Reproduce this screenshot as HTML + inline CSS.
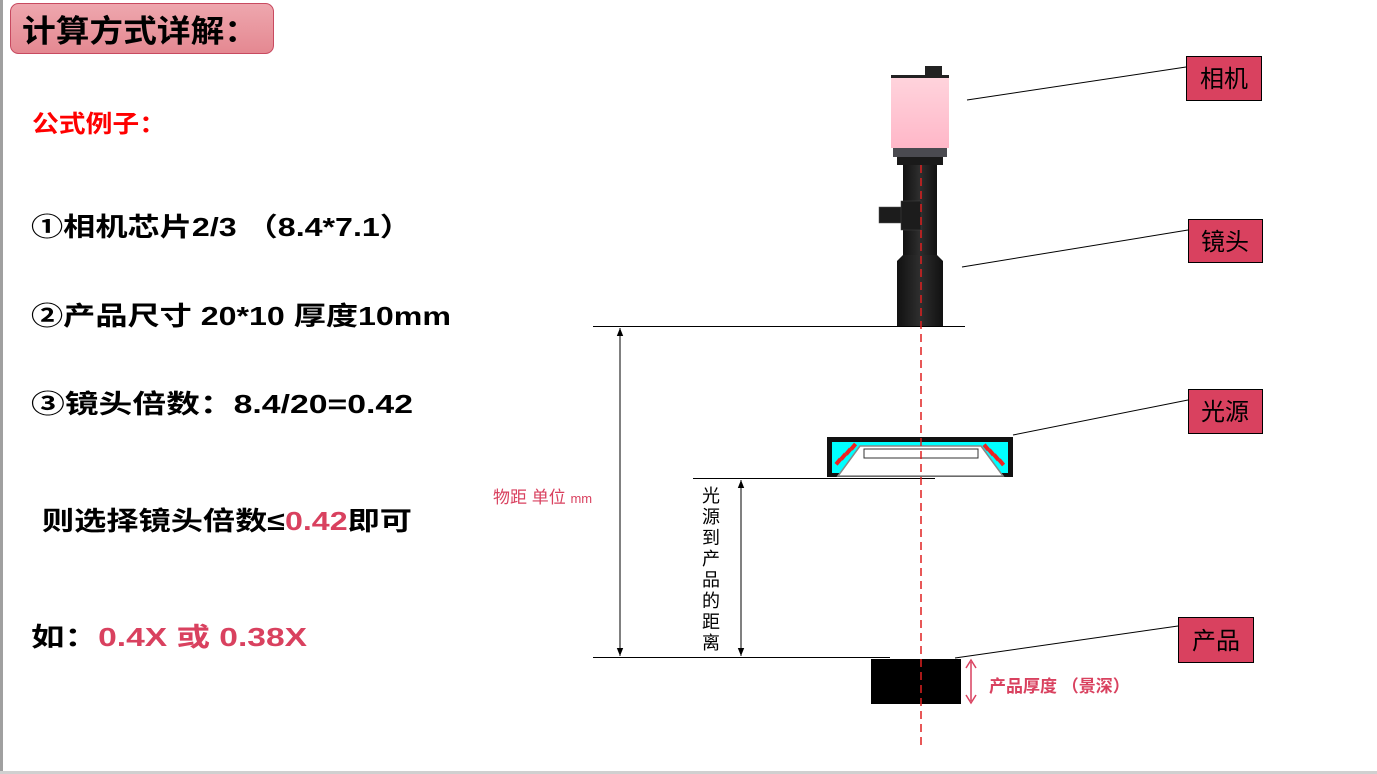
<!DOCTYPE html>
<html><head><meta charset="utf-8"><style>
html,body{margin:0;padding:0;background:#fff;}
svg{display:block;}
text{font-family:"Liberation Sans","Noto Sans CJK SC",sans-serif;}
</style></head><body>
<svg width="1377" height="774" viewBox="0 0 1377 774" xmlns="http://www.w3.org/2000/svg">
<defs>
<linearGradient id="tg" x1="0" y1="0" x2="0" y2="1"><stop offset="0" stop-color="#eea7ae"/><stop offset="1" stop-color="#e48891"/></linearGradient>
<linearGradient id="pk" x1="0" y1="0" x2="0" y2="1"><stop offset="0" stop-color="#ffd3dc"/><stop offset="1" stop-color="#ffb7c8"/></linearGradient>
<linearGradient id="bk" x1="0" y1="0" x2="1" y2="0"><stop offset="0" stop-color="#111"/><stop offset="0.5" stop-color="#2e2e2e"/><stop offset="1" stop-color="#111"/></linearGradient>
<marker id="ah" viewBox="0 0 10 10" refX="10" refY="5" markerWidth="8" markerHeight="8" orient="auto-start-reverse"><path d="M0,1 L10,5 L0,9 z" fill="#000"/></marker>
</defs>
<rect x="0" y="0" width="3" height="774" fill="#a0a0a0"/>
<rect x="0" y="771" width="1377" height="3" fill="#d0d0d0"/>
<!-- title -->
<rect x="10.5" y="3.5" width="263" height="50" rx="8" fill="url(#tg)" stroke="#c84a60"/>
<text x="22" y="42" font-size="31" font-weight="bold" textLength="236" lengthAdjust="spacingAndGlyphs">计算方式详解：</text>
<text x="32" y="132" font-size="24" font-weight="bold" fill="#ff0000" textLength="134" lengthAdjust="spacingAndGlyphs">公式例子：</text>
<text x="31" y="236" font-size="26" font-weight="bold" textLength="381" lengthAdjust="spacingAndGlyphs">①相机芯片2/3 （8.4*7.1）</text>
<text x="31" y="325" font-size="26" font-weight="bold" textLength="420" lengthAdjust="spacingAndGlyphs">②产品尺寸 20*10  厚度10mm</text>
<text x="31" y="413" font-size="26" font-weight="bold" textLength="382" lengthAdjust="spacingAndGlyphs">③镜头倍数：8.4/20=0.42</text>
<text x="42" y="530" font-size="26" font-weight="bold" textLength="370" lengthAdjust="spacingAndGlyphs">则选择镜头倍数≤<tspan fill="#d9415f">0.42</tspan>即可</text>
<text x="31" y="646" font-size="26" font-weight="bold" textLength="276" lengthAdjust="spacingAndGlyphs">如：<tspan fill="#d9415f">0.4X 或 0.38X</tspan></text>

<!-- camera -->
<rect x="925" y="66" width="17" height="10" fill="#222"/>
<rect x="891" y="75" width="58" height="3" fill="#222"/>
<rect x="891" y="78" width="58" height="70" fill="url(#pk)"/>
<rect x="893" y="148" width="54" height="9" fill="#4a4a50"/>
<rect x="897" y="157" width="46" height="8" fill="#1a1a1a"/>
<rect x="903" y="165" width="34" height="92" fill="url(#bk)"/>
<rect x="879" y="207" width="24" height="16" fill="#1c1c1c" stroke="#555" stroke-width="0.5"/>
<rect x="901" y="201" width="20" height="29" fill="#1c1c1c" stroke="#444" stroke-width="0.5"/>
<path d="M903,255 L937,255 L943,261 L943,326 L897,326 L897,261 Z" fill="url(#bk)"/>
<!-- light -->
<rect x="827" y="437" width="186" height="40" fill="#111"/>
<rect x="832" y="442" width="176" height="31" fill="#00ffff"/>
<path d="M860,446 L981,446 L1003,476 L838,476 Z" fill="#fff" stroke="#888" stroke-width="1.5"/>
<path d="M864,449 L978,449 L978,458 L864,458 Z" fill="#fff" stroke="#333" stroke-width="1"/>
<g fill="#f02020">
<rect x="835" y="460" width="7" height="4" transform="rotate(-50 838 462)"/>
<rect x="840" y="455" width="7" height="4" transform="rotate(-50 843 457)"/>
<rect x="845" y="450" width="7" height="4" transform="rotate(-50 848 452)"/>
<rect x="850" y="445" width="7" height="4" transform="rotate(-50 853 447)"/>
<rect x="998" y="460" width="7" height="4" transform="rotate(50 1001 462)"/>
<rect x="993" y="455" width="7" height="4" transform="rotate(50 996 457)"/>
<rect x="988" y="450" width="7" height="4" transform="rotate(50 991 452)"/>
<rect x="983" y="445" width="7" height="4" transform="rotate(50 986 447)"/>
</g>
<!-- product -->
<rect x="871" y="659" width="90" height="45" fill="#000"/>
<!-- lines -->
<line x1="593" y1="326.5" x2="965" y2="326.5" stroke="#000"/>
<line x1="693" y1="478.5" x2="935" y2="478.5" stroke="#000"/>
<line x1="593" y1="657.5" x2="890" y2="657.5" stroke="#000"/>
<line x1="620" y1="328" x2="620" y2="656" stroke="#000" marker-start="url(#ah)" marker-end="url(#ah)"/>
<line x1="741" y1="480" x2="741" y2="656" stroke="#000" marker-start="url(#ah)" marker-end="url(#ah)"/>
<line x1="921" y1="165" x2="921" y2="745" stroke="#e02020" stroke-width="1.5" stroke-dasharray="8,5"/>
<!-- thickness arrow -->
<line x1="971" y1="662" x2="971" y2="701" stroke="#d9415f" stroke-width="1.5"/>
<path d="M966,668 L971,660 L976,668 M966,695 L971,703 L976,695" fill="none" stroke="#d9415f" stroke-width="1.5"/>
<text x="989" y="692" font-size="17" font-weight="bold" fill="#d9415f">产品厚度 （景深）</text>
<text x="493" y="503" font-size="17" fill="#d9415f">物距 单位 <tspan font-size="13">mm</tspan></text>
<g font-size="18" text-anchor="middle">
<text x="711" y="502">光</text><text x="711" y="523">源</text><text x="711" y="544">到</text><text x="711" y="565">产</text><text x="711" y="586">品</text><text x="711" y="607">的</text><text x="711" y="628">距</text><text x="711" y="649">离</text>
</g>
<!-- callouts -->
<line x1="967" y1="100" x2="1186" y2="67" stroke="#000"/>
<line x1="962" y1="267" x2="1188" y2="230" stroke="#000"/>
<line x1="1013" y1="435" x2="1188" y2="400" stroke="#000"/>
<line x1="955" y1="658" x2="1178" y2="626" stroke="#000"/>
<g stroke="#000" fill="#d9415f">
<rect x="1186.5" y="56.5" width="75" height="44"/>
<rect x="1188.5" y="219.5" width="74" height="43"/>
<rect x="1188.5" y="389.5" width="74" height="44"/>
<rect x="1178.5" y="617.5" width="75" height="45"/>
</g>
<g font-size="24" style="font-family:'Liberation Serif','Noto Serif CJK SC',serif" text-anchor="middle">
<text x="1224" y="87">相机</text>
<text x="1225" y="250">镜头</text>
<text x="1225" y="420">光源</text>
<text x="1216" y="649">产品</text>
</g>
</svg>
</body></html>
